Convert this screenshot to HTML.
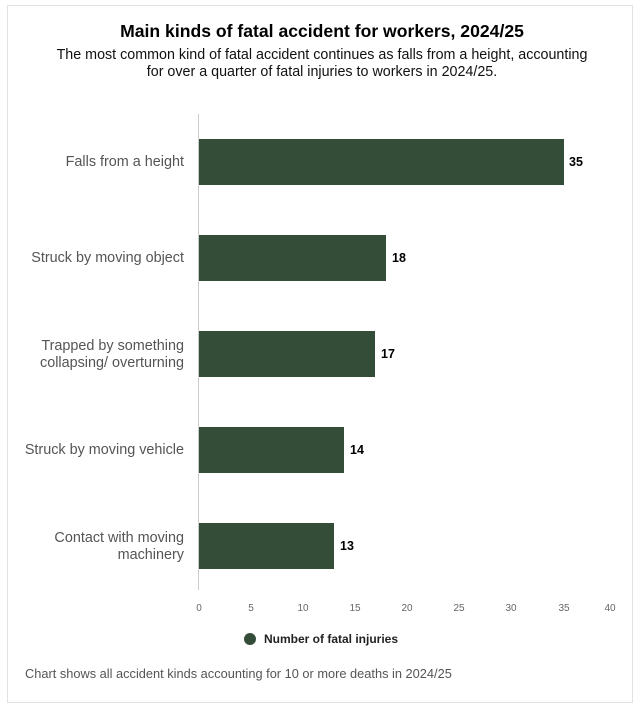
<!DOCTYPE html>
<html><head><style>
body{margin:0;width:644px;height:712px;background:#fff;font-family:"Liberation Sans",Arial,sans-serif;position:relative;overflow:hidden}
.box{position:absolute;left:7px;top:5px;width:626px;height:698px;border:1px solid #e2e2e2;box-sizing:border-box}
.t{position:absolute;left:0;width:644px;text-align:center}
.lab{position:absolute;right:460px;text-align:right;font-size:14.4px;color:#555;line-height:17px;white-space:nowrap}
.bar{position:absolute;left:199px;height:46px;background:#344d38}
.val{position:absolute;font-size:12.5px;font-weight:bold;color:#000}
.tk{position:absolute;top:603px;font-size:10px;color:#666;width:30px;text-align:center}
</style></head><body>
<div class="box"></div>
<div class="t" style="top:21px;font-size:17.6px;font-weight:bold;color:#000">Main kinds of fatal accident for workers, 2024/25</div>
<div class="t" style="top:47px;font-size:14.3px;line-height:17px;color:#111">The most common kind of fatal accident continues as falls from a height, accounting<br>for over a quarter of fatal injuries to workers in 2024/25.</div>
<div style="position:absolute;left:198px;top:114px;width:1px;height:476px;background:#ccc"></div>
<div class="lab" style="top:154px">Falls from a height</div>
<div class="lab" style="top:250px">Struck by moving object</div>
<div class="lab" style="top:338px">Trapped by something<br>collapsing/ overturning</div>
<div class="lab" style="top:442px">Struck by moving vehicle</div>
<div class="lab" style="top:530px">Contact with moving<br>machinery</div>
<div class="bar" style="top:139px;width:365px"></div>
<div class="bar" style="top:235px;width:187px"></div>
<div class="bar" style="top:331px;width:176px"></div>
<div class="bar" style="top:427px;width:145px"></div>
<div class="bar" style="top:523px;width:135px"></div>
<div class="val" style="left:569px;top:155px">35</div>
<div class="val" style="left:392px;top:251px">18</div>
<div class="val" style="left:381px;top:347px">17</div>
<div class="val" style="left:350px;top:443px">14</div>
<div class="val" style="left:340px;top:539px">13</div>
<div class="tk" style="left:184px">0</div>
<div class="tk" style="left:236px">5</div>
<div class="tk" style="left:288px">10</div>
<div class="tk" style="left:340px">15</div>
<div class="tk" style="left:392px">20</div>
<div class="tk" style="left:444px">25</div>
<div class="tk" style="left:496px">30</div>
<div class="tk" style="left:549px">35</div>
<div class="tk" style="left:595px">40</div>
<div style="position:absolute;left:244px;top:633px;width:12px;height:12px;border-radius:50%;background:#344d38"></div>
<div style="position:absolute;left:264px;top:632px;font-size:12px;font-weight:bold;color:#222">Number of fatal injuries</div>
<div style="position:absolute;left:25px;top:666px;font-size:12.8px;color:#555">Chart shows all accident kinds accounting for 10 or more deaths in 2024/25</div>
</body></html>
